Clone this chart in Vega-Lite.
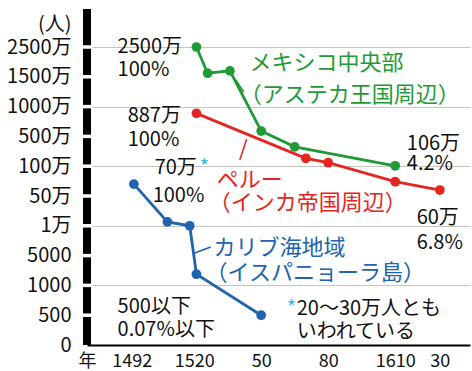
{
  "$schema": "https://vega.github.io/schema/vega-lite/v6.json",
  "width": 383,
  "height": 336,
  "autosize": {"type": "none"},
  "padding": {"left": 87, "top": 9, "right": 2, "bottom": 26},
  "background": "white",
  "config": {"view": {"stroke": null}, "font": "Noto Sans CJK JP"},
  "datasets": {
    "lines": [
      {"region": "メキシコ中央部", "year": 1521, "pop": 25000000},
      {"region": "メキシコ中央部", "year": 1526, "pop": 16200000},
      {"region": "メキシコ中央部", "year": 1536, "pop": 17000000},
      {"region": "メキシコ中央部", "year": 1550, "pop": 5900000},
      {"region": "メキシコ中央部", "year": 1565, "pop": 3600000},
      {"region": "メキシコ中央部", "year": 1610, "pop": 1060000},
      {"region": "ペルー", "year": 1521, "pop": 8870000},
      {"region": "ペルー", "year": 1570, "pop": 2060000},
      {"region": "ペルー", "year": 1580, "pop": 1470000},
      {"region": "ペルー", "year": 1610, "pop": 740000},
      {"region": "ペルー", "year": 1630, "pop": 600000},
      {"region": "カリブ海地域", "year": 1493, "pop": 700000},
      {"region": "カリブ海地域", "year": 1508, "pop": 75000},
      {"region": "カリブ海地域", "year": 1518, "pop": 10000},
      {"region": "カリブ海地域", "year": 1521, "pop": 2500},
      {"region": "カリブ海地域", "year": 1550, "pop": 500}
    ],
    "labels": [
      {"group": "注記", "text": "2500万", "year": 1485.7, "pop": 25000000},
      {"group": "注記", "text": "100%", "year": 1485.7, "pop": 17280000},
      {"group": "注記", "text": "887万", "year": 1490.2, "pop": 8420000},
      {"group": "注記", "text": "100%", "year": 1490.2, "pop": 4520000},
      {"group": "注記", "text": "70万", "year": 1502.3, "pop": 970000},
      {"group": "注記", "text": "100%", "year": 1501.4, "pop": 500000},
      {"group": "注記", "text": "106万", "year": 1615.2, "pop": 3980000},
      {"group": "注記", "text": "4.2%", "year": 1615.2, "pop": 1300000},
      {"group": "注記", "text": "60万", "year": 1619.6, "pop": 138000},
      {"group": "注記", "text": "6.8%", "year": 1619.6, "pop": 7100},
      {"group": "注記", "text": "500以下", "year": 1485.7, "pop": 640},
      {"group": "注記", "text": "0.07%以下", "year": 1485.7, "pop": 250},
      {"group": "注記", "text": "20〜30万人とも", "year": 1565.9, "pop": 600},
      {"group": "注記", "text": "いわれている", "year": 1565.9, "pop": 220},
      {"group": "メキシコ中央部", "text": "メキシコ中央部", "year": 1544.8, "pop": 19630000},
      {"group": "メキシコ中央部", "text": "（アステカ王国周辺）", "year": 1540.4, "pop": 11950000},
      {"group": "ペルー", "text": "ペルー", "year": 1530.1, "pop": 768000},
      {"group": "ペルー", "text": "（インカ帝国周辺）", "year": 1526.5, "pop": 385000},
      {"group": "カリブ海地域", "text": "カリブ海地域", "year": 1528.7, "pop": 6280},
      {"group": "カリブ海地域", "text": "（イスパニョーラ島）", "year": 1525.1, "pop": 2670}
    ],
    "stars": [
      {"text": "*", "year": 1522.5, "pop": 970000},
      {"text": "*", "year": 1561.4, "pop": 600}
    ],
    "leaders": [
      {"region": "メキシコ中央部", "year": 1538.6, "pop": 14460000, "year2": 1542.2, "pop2": 12450000},
      {"region": "ペルー", "year": 1543.5, "pop": 4650000, "year2": 1540.4, "pop2": 1830000},
      {"region": "カリブ海地域", "year": 1520.2, "pop": 5440, "year2": 1527.4, "pop2": 6440}
    ],
    "bar": [
      {"year": 1472, "pop": 0, "pop2": 37750000}
    ],
    "gaps": [
      {"pop": 500, "year": 1469.8, "year2": 1474.6},
      {"pop": 1000, "year": 1469.8, "year2": 1474.6},
      {"pop": 5000, "year": 1469.8, "year2": 1474.6},
      {"pop": 10000, "year": 1469.8, "year2": 1474.6},
      {"pop": 500000, "year": 1469.8, "year2": 1474.6},
      {"pop": 1000000, "year": 1469.8, "year2": 1474.6},
      {"pop": 5000000, "year": 1469.8, "year2": 1474.6},
      {"pop": 10000000, "year": 1469.8, "year2": 1474.6},
      {"pop": 15000000, "year": 1469.8, "year2": 1474.6},
      {"pop": 25000000, "year": 1469.8, "year2": 1474.6}
    ]
  },
  "encoding": {
    "x": {
      "field": "year",
      "type": "quantitative",
      "scale": {"domain": [1472, 1643.5], "nice": false, "zero": false},
      "axis": {
        "values": [1472, 1492, 1520, 1550, 1580, 1610, 1630],
        "labelExpr": "datum.value == 1472 ? '年' : datum.value == 1550 ? '50' : datum.value == 1580 ? '80' : datum.value == 1630 ? '30' : format(datum.value, 'd')",
        "title": null,
        "grid": false,
        "ticks": false,
        "domainColor": "#000000",
        "domainWidth": 2,
        "labelFont": "Noto Sans CJK JP",
        "labelFontSize": 18,
        "labelColor": "#111111",
        "labelPadding": 7,
        "labelFlush": false,
        "labelOverlap": false,
        "labelBound": false
      }
    },
    "y": {
      "field": "pop",
      "type": "quantitative",
      "scale": {
        "domain": [0, 500, 1000, 5000, 10000, 500000, 1000000, 5000000, 10000000, 15000000, 25000000, 37750000],
        "range": [336, 306.2, 276.4, 246.6, 216.8, 187, 157.2, 127.4, 97.6, 67.8, 38, 0],
        "nice": false,
        "zero": false
      },
      "axis": {
        "values": [0, 500, 1000, 5000, 10000, 500000, 1000000, 5000000, 10000000, 15000000, 25000000, 32400000],
        "labelExpr": "datum.value > 30000000 ? '(人)' : datum.value >= 10000 ? format(datum.value / 10000, 'd') + '万' : format(datum.value, 'd')",
        "title": null,
        "ticks": false,
        "domain": false,
        "grid": true,
        "gridColor": "#c4c4c4",
        "gridWidth": 1,
        "gridOpacity": {"condition": {"test": "indexof([1000, 10000, 1000000, 10000000, 25000000], datum.value) >= 0", "value": 1}, "value": 0},
        "labelFont": "Noto Sans CJK JP",
        "labelFontSize": 20,
        "labelColor": "#111111",
        "labelPadding": 16,
        "labelOverlap": false,
        "labelBound": false,
        "labelFlush": false
      }
    }
  },
  "layer": [
    {
      "data": {"name": "bar"},
      "mark": {"type": "rule", "color": "#000000", "strokeWidth": 8, "strokeCap": "butt"},
      "encoding": {
        "y2": {"field": "pop2"}
      }
    },
    {
      "data": {"name": "gaps"},
      "mark": {"type": "rule", "color": "#ffffff", "strokeWidth": 3.5},
      "encoding": {
        "x2": {"field": "year2"}
      }
    },
    {
      "data": {"name": "lines"},
      "mark": {"type": "line", "strokeWidth": 2.8},
      "encoding": {
        "color": {
          "field": "region",
          "type": "nominal",
          "scale": {"domain": ["メキシコ中央部", "ペルー", "カリブ海地域", "注記"], "range": ["#1f9a35", "#e62420", "#2063ae", "#111111"]},
          "legend": null
        }
      }
    },
    {
      "data": {"name": "lines"},
      "mark": {"type": "point", "filled": true, "opacity": 1, "size": 95},
      "encoding": {
        "color": {"field": "region", "type": "nominal", "legend": null}
      }
    },
    {
      "data": {"name": "leaders"},
      "mark": {"type": "rule", "strokeWidth": 1.5},
      "encoding": {
        "x2": {"field": "year2"},
        "y2": {"field": "pop2"},
        "color": {"field": "region", "type": "nominal", "legend": null}
      }
    },
    {
      "data": {"name": "labels"},
      "transform": [{"filter": "datum.group == '注記'"}],
      "mark": {"type": "text", "align": "left", "baseline": "middle", "font": "Noto Sans CJK JP", "fontSize": 20},
      "encoding": {
        "text": {"field": "text"},
        "color": {"field": "group", "type": "nominal", "legend": null}
      }
    },
    {
      "data": {"name": "labels"},
      "transform": [{"filter": "datum.group != '注記'"}],
      "mark": {"type": "text", "align": "left", "baseline": "middle", "font": "Noto Sans CJK JP", "fontSize": 22},
      "encoding": {
        "text": {"field": "text"},
        "color": {"field": "group", "type": "nominal", "legend": null}
      }
    },
    {
      "data": {"name": "stars"},
      "mark": {"type": "text", "align": "left", "baseline": "middle", "font": "Noto Sans CJK JP", "fontSize": 20, "color": "#39b5e3"},
      "encoding": {
        "text": {"field": "text"}
      }
    }
  ]
}
